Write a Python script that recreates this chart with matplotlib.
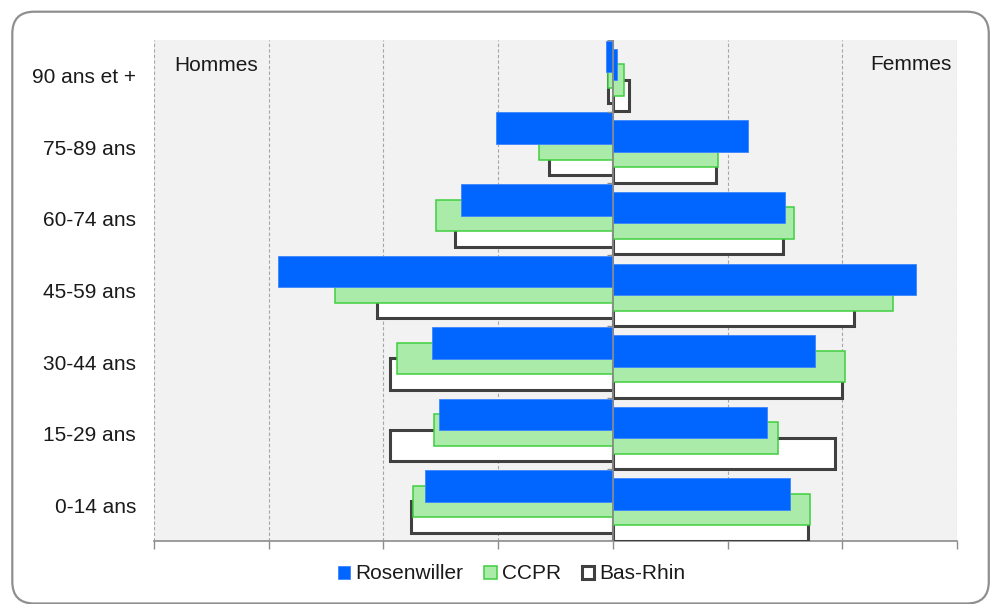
import numpy as np
import matplotlib
matplotlib.use("Agg")
import matplotlib.pyplot as plt
from matplotlib.patches import FancyBboxPatch
from matplotlib.transforms import IdentityTransform

plt.rcParams["font.family"] = ["Liberation Sans", "DejaVu Sans"]

# Age groups, youngest at the bottom
age_groups = ["0-14 ans", "15-29 ans", "30-44 ans", "45-59 ans",
              "60-74 ans", "75-89 ans", "90 ans et +"]

# Share of the total population (%), men on the left, women on the right
rosenwiller_hommes = [8.2, 7.6, 7.9, 14.6, 6.6, 5.1, 0.3]
ccpr_hommes = [8.7, 7.8, 9.4, 12.1, 7.7, 3.2, 0.2]
basrhin_hommes = [8.8, 9.7, 9.7, 10.3, 6.9, 2.8, 0.2]

rosenwiller_femmes = [7.7, 6.7, 8.8, 13.2, 7.5, 5.9, 0.2]
ccpr_femmes = [8.6, 7.2, 10.1, 12.2, 7.9, 4.6, 0.5]
basrhin_femmes = [8.5, 9.7, 10.0, 10.5, 7.4, 4.5, 0.7]

series_names = ["Rosenwiller", "CCPR", "Bas-Rhin"]

BLUE = "#0066ff"
GREEN_FILL = "#abeba9"
GREEN_EDGE = "#3fcf3f"
DARK = "#404040"

fig = plt.figure(figsize=(9.9, 6.04), dpi=100)
ax = fig.add_axes([0.1556, 0.1043, 0.8111, 0.8295])
ax.set_facecolor("#f2f2f2")

y = np.arange(len(age_groups))
h = 0.44       # bar thickness
step = 0.217   # vertical shift between series
off_h = 0.05   # men bars sit slightly higher than women bars
off_f = -0.06

styles = {
    "Bas-Rhin": dict(color="white", edgecolor=DARK, linewidth=2.2),
    "CCPR": dict(color=GREEN_FILL, edgecolor=GREEN_EDGE, linewidth=1.1),
    "Rosenwiller": dict(color=BLUE, edgecolor="#3d85ff", linewidth=0.6),
}
shift = {"Rosenwiller": step, "CCPR": 0.0, "Bas-Rhin": -step}
hommes = {"Rosenwiller": rosenwiller_hommes, "CCPR": ccpr_hommes, "Bas-Rhin": basrhin_hommes}
femmes = {"Rosenwiller": rosenwiller_femmes, "CCPR": ccpr_femmes, "Bas-Rhin": basrhin_femmes}

# draw from back to front: Bas-Rhin, CCPR, Rosenwiller
for name in ["Bas-Rhin", "CCPR", "Rosenwiller"]:
    ax.barh(y + off_h + shift[name], -np.array(hommes[name]), height=h,
            zorder=3, **styles[name])
    ax.barh(y + off_f + shift[name], femmes[name], height=h,
            zorder=3, label=name, **styles[name])

ax.set_xlim(-20, 15)
ax.set_ylim(-0.5, len(age_groups) - 0.5)

ax.set_xticks(np.arange(-20, 16, 5))
ax.set_xticklabels([])
ax.tick_params(axis="x", length=6, color="#8c8c8c", width=1)
ax.grid(axis="x", color="#a6a6a6", linestyle=(0, (3, 2)), linewidth=0.8)
ax.set_axisbelow(True)

ax.set_yticks(y)
ax.set_yticklabels(age_groups, fontsize=15, color="#1a1a1a")
ax.tick_params(axis="y", length=0, pad=13)

for side in ["top", "right", "left"]:
    ax.spines[side].set_visible(False)
ax.spines["bottom"].set_color("#8c8c8c")
ax.spines["bottom"].set_linewidth(1.2)

# central axis with small ticks between age groups
ax.axvline(0, color="#8c8c8c", linewidth=1.2, zorder=5)
ax.hlines(np.arange(len(age_groups) + 1) - 0.5, -0.27, 0,
          color="#8c8c8c", linewidth=1, zorder=5)

ax.text(0.025, 0.95, "Hommes", transform=ax.transAxes, fontsize=15,
        ha="left", va="center", color="#1a1a1a")
ax.text(0.9938, 0.952, "Femmes", transform=ax.transAxes, fontsize=15,
        ha="right", va="center", color="#1a1a1a")

handles, labels = ax.get_legend_handles_labels()
order = [labels.index(n) for n in series_names]
fig.legend([handles[i] for i in order], series_names, loc="center",
           bbox_to_anchor=(0.5167, 0.0497), ncol=3, frameon=False,
           fontsize=15, handlelength=0.6, handleheight=0.6,
           handletextpad=0.25, columnspacing=1.0, labelcolor="#1a1a1a")

# rounded frame around the whole chart
frame = FancyBboxPatch((12.3, 0.5), 976.5, 591.8,
                       boxstyle="round,pad=0,rounding_size=22",
                       transform=IdentityTransform(), fill=False,
                       edgecolor="#8f8f8f", linewidth=1.6)
fig.patches.append(frame)

fig.savefig("out.png", dpi=100)
